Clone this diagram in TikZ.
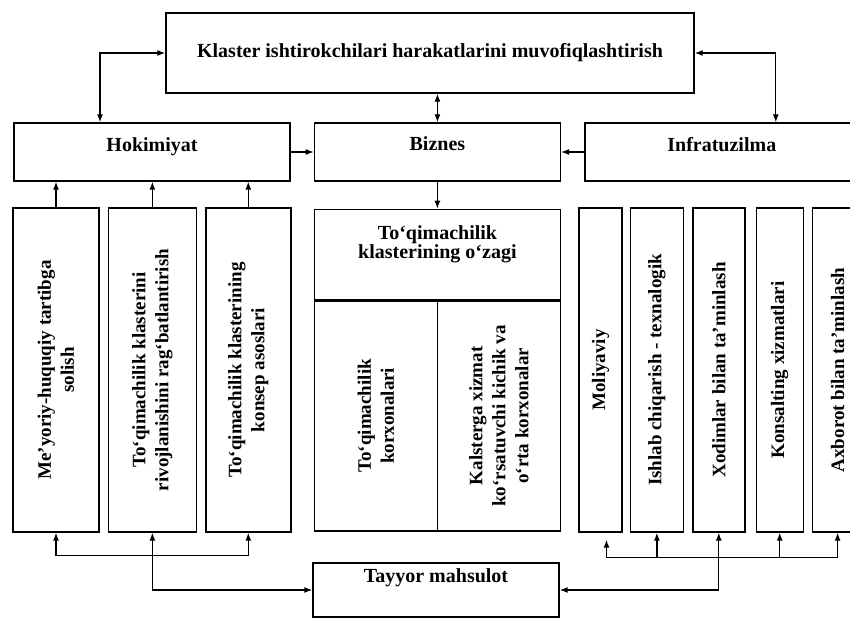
\documentclass[tikz,border=0pt]{standalone}
\usepackage{fontspec}
\setmainfont{Liberation Serif}
\usetikzlibrary{positioning, arrows.meta}
\tikzstyle{block}=[draw,fill=white,rectangle,line width=1.4pt,inner sep=0pt]
\tikzstyle{every node}=[font=\bfseries\fontsize{20}{24}\selectfont]
\tikzstyle{vtext}=[rotate=90,align=center,font=\bfseries\fontsize{19}{23}\selectfont]

\begin{document}
\begin{tikzpicture}[x=1pt,y=-1pt,>={Latex[length=8pt,width=6pt]},line width=1.2pt]
            \useasboundingbox (0,0) rectangle (850,620);
            % top row
            \node[block, minimum width=528pt, minimum height=80pt] (klaster) at (430,53) {Klaster ishtirokchilari harakatlarini muvofiqlashtirish};
            \node[block, minimum width=276pt, minimum height=58pt, align=center] (hokim) at (152,152) {Hokimiyat\\[-9pt]\mbox{}};
            \node[block, minimum width=246pt, minimum height=58pt, align=center, right=23pt of hokim] (biznes) {Biznes\\[-8pt]\mbox{}};
            \node[block, minimum width=274pt, minimum height=58pt, align=center, right=23pt of biznes] (infra) {Infratuzilma\\[-8pt]\mbox{}};
            % left column
            \node[block, minimum width=86pt, minimum height=324pt] (m1) at (56,370) {};
            \node[block, minimum width=88pt, minimum height=324pt, right=8pt of m1] (m2) {};
            \node[block, minimum width=85pt, minimum height=324pt, right=8pt of m2] (m3) {};
            \node[vtext] (m1t) at (m1) {Me’yoriy-huquqiy tartibga\\solish};
            \node[vtext] (m2t) at (m2) {To‘qimachilik klasterini\\rivojlanishini rag‘batlantirish};
            \node[vtext] (m3t) at (m3) {To‘qimachilik klasterining\\konsep asoslari};
            % core
            \node[block, minimum width=246pt, minimum height=90pt, align=center, below=27pt of biznes] (core) {To‘qimachilik\\[-5pt]klasterining o‘zagi\\[1pt]\mbox{}};
            \node[block, minimum width=123pt, minimum height=230pt, anchor=north west] (c1) at (core.south west) {};
            \node[block, minimum width=123pt, minimum height=230pt, anchor=north east] (c2) at (core.south east) {};
            \node[vtext] (c1t) at (c1) {To‘qimachilik\\korxonalari};
            \node[vtext] (c2t) at (c2) {Kalsterga xizmat\\ko‘rsatuvchi kichik va\\o‘rta korxonalar};
            % right column
            \node[block, minimum width=43pt, minimum height=324pt] (r1) at (600.5,370) {};
            \node[block, minimum width=53pt, minimum height=324pt, right=7pt of r1] (r2) {};
            \node[block, minimum width=52pt, minimum height=324pt, right=8pt of r2] (r3) {};
            \node[block, minimum width=47pt, minimum height=324pt, right=10pt of r3] (r4) {};
            \node[block, minimum width=50pt, minimum height=324pt, right=8pt of r4] (r5) {};
            \node[vtext] (r1t) at (r1) {Moliyaviy};
            \node[vtext] (r2t) at (r2) {Ishlab chiqarish - texnalogik};
            \node[vtext] (r3t) at (r3) {Xodimlar bilan ta’minlash};
            \node[vtext] (r4t) at (r4) {Konsalting xizmatlari};
            \node[vtext] (r5t) at (r5) {Axborot bilan ta’minlash};
            % bottom
            \node[block, minimum width=246pt, minimum height=54pt, align=center] (tayyor) at (436,590) {Tayyor mahsulot\\[4pt]\mbox{}};
            % connectors
            \draw[<->] (klaster.west) -| ([xshift=-52pt]hokim.north);
            \draw[<->] (klaster.east) -| ([xshift=54pt]infra.north);
            \draw[<->] (klaster.south -| biznes.north) -- (biznes.north);
            \draw[->] (hokim) -- (biznes);
            \draw[->] (infra) -- (biznes);
            \draw[->] (biznes) -- (core);
            \foreach \m in {m1,m2,m3}
                \draw[->] (\m.north) -- (\m.north |- hokim.south);
            \coordinate (lj) at ([yshift=-23pt]m2.south);
            \draw[<->] (m1.south) |- (lj) -| (m3.south);
            \draw[<->] (tayyor.west) -| (m2.south);
            \coordinate (rj) at ([yshift=-25pt]r3.south);
            \coordinate (r1b) at ([xshift=6pt]r1.south);
            \draw (r1b |- rj) -- (r5.south |- rj);
            \draw[->, shorten >=7pt] (r1b |- rj) -- (r1b);
            \foreach \r in {r2,r4,r5}
                \draw[->] (\r.south |- rj) -- (\r.south);
            \draw[<->] (tayyor.east) -| (r3.south);
        \end{tikzpicture}
\end{document}
